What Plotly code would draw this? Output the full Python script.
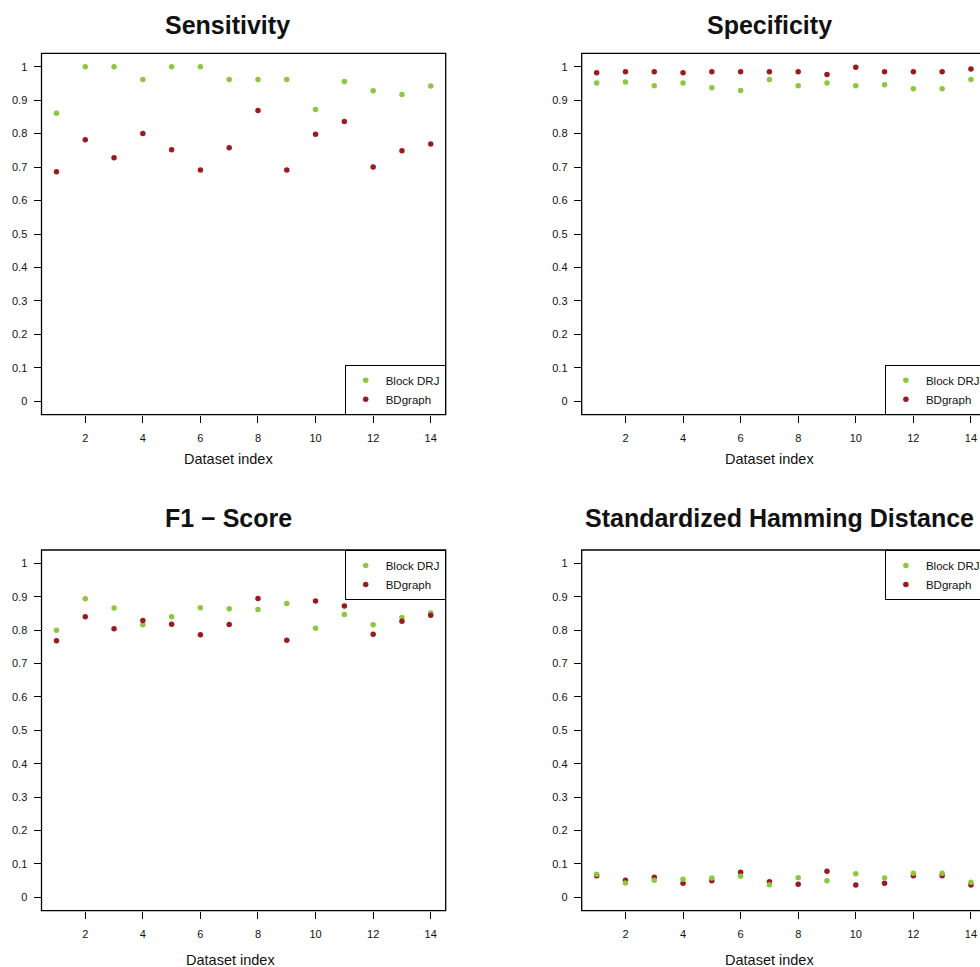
import plotly.graph_objects as go

datasets = list(range(1, 15))
series_names = ["Block DRJ", "BDgraph"]

sens_drj = [0.861, 1.0, 1.0, 0.962, 1.0, 1.0, 0.962, 0.962, 0.962, 0.872, 0.956, 0.928, 0.917, 0.942]
sens_bd = [0.686, 0.782, 0.728, 0.800, 0.752, 0.691, 0.758, 0.869, 0.691, 0.798, 0.836, 0.700, 0.749, 0.769]

spec_drj = [0.951, 0.954, 0.943, 0.951, 0.937, 0.929, 0.962, 0.943, 0.951, 0.943, 0.946, 0.934, 0.934, 0.962]
spec_bd = [0.982, 0.985, 0.985, 0.982, 0.985, 0.985, 0.985, 0.985, 0.977, 0.998, 0.985, 0.985, 0.985, 0.993]

f1_drj = [0.800, 0.894, 0.866, 0.816, 0.840, 0.867, 0.864, 0.862, 0.880, 0.806, 0.847, 0.816, 0.838, 0.851]
f1_bd = [0.768, 0.840, 0.804, 0.829, 0.818, 0.786, 0.817, 0.895, 0.770, 0.887, 0.872, 0.788, 0.827, 0.845]

ham_drj = [0.069, 0.043, 0.051, 0.054, 0.058, 0.063, 0.038, 0.059, 0.050, 0.071, 0.058, 0.072, 0.072, 0.045]
ham_bd = [0.065, 0.051, 0.060, 0.042, 0.050, 0.075, 0.047, 0.039, 0.078, 0.037, 0.042, 0.065, 0.065, 0.037]

titles = ["Sensitivity", "Specificity", "F1 \u2212 Score", "Standardized Hamming Distance"]
x_title = "Dataset index"
y_tickvals = [0, 0.1, 0.2, 0.3, 0.4, 0.5, 0.6, 0.7, 0.8, 0.9, 1.0]
y_ticktext = ["0", "0.1", "0.2", "0.3", "0.4", "0.5", "0.6", "0.7", "0.8", "0.9", "1"]
x_tickvals = [2, 4, 6, 8, 10, 12, 14]

GREEN = "#8DC63F"
RED = "#9B1A22"
FONT = "Liberation Sans, Arial, Helvetica, sans-serif"

W, H = 980, 967
PW = 404.2  # plot width px
cols = [41.5, 581.7]  # left edge px
rows = [(53.3, 414.7), (550.0, 910.7)]  # top, bottom px
ppu = PW / 14.04

fig = go.Figure()

panels = [
    (0, 0, sens_drj, sens_bd, "legend", "bottom", 227.0, False),
    (0, 1, spec_drj, spec_bd, "legend2", "bottom", 769.5, False),
    (1, 0, f1_drj, f1_bd, "legend3", "top", 228.0, False),
    (1, 1, ham_drj, ham_bd, "legend4", "top", 779.0, True),
]

shapes = []
annotations = []
for i, (r, c, drj, bd, leg, lpos, tx, green_on_top) in enumerate(panels):
    idx = i + 1
    xa = "x" if idx == 1 else f"x{idx}"
    ya = "y" if idx == 1 else f"y{idx}"
    left = cols[c]
    right = left + PW
    top, bottom = rows[r]
    x0 = left / W
    x1 = min(right, W) / W
    xmax = 14.52 if right <= W else 0.48 + (W - left) / ppu
    axis_common = dict(showgrid=False, zeroline=False, showline=False,
                       ticks="outside", ticklen=7, tickwidth=1.2, tickcolor="black",
                       tickfont=dict(family=FONT, size=11, color="#111111"))
    fig.layout[f"xaxis{'' if idx == 1 else idx}"] = dict(
        domain=[x0, x1], range=[0.48, xmax], anchor=ya,
        tickvals=x_tickvals, ticktext=[str(v) for v in x_tickvals],
        ticklabelstandoff=6, **axis_common)
    fig.layout[f"yaxis{'' if idx == 1 else idx}"] = dict(
        domain=[1 - bottom / H, 1 - top / H], range=[-0.04, 1.04], anchor=xa,
        tickvals=y_tickvals, ticktext=y_ticktext, ticklabelstandoff=4, **axis_common)

    traces = [(series_names[0], drj, GREEN, 1), (series_names[1], bd, RED, 2)]
    if not green_on_top:
        order = traces
    else:
        order = [traces[1], traces[0]]
    for name, vals, col, rank in order:
        fig.add_trace(go.Scatter(
            x=datasets, y=vals, mode="markers", name=name,
            marker=dict(color=col, size=5.5, line=dict(width=0)),
            xaxis=xa, yaxis=ya, legend=leg, legendrank=rank, showlegend=True))

    shapes.append(dict(type="rect", xref="paper", yref="paper",
                       x0=left / W, x1=right / W, y0=1 - bottom / H, y1=1 - top / H,
                       line=dict(color="black", width=1.3), layer="above"))
    # legend placement
    leg_cfg = dict(xanchor="right", x=right / W,
                   bgcolor="white", bordercolor="black", borderwidth=1,
                   font=dict(family=FONT, size=11.5, color="#111111"),
                   itemwidth=30, tracegroupgap=0, traceorder="normal")
    if lpos == "bottom":
        leg_cfg.update(yanchor="bottom", y=1 - bottom / H)
    else:
        leg_cfg.update(yanchor="top", y=1 - top / H)
    fig.layout[leg] = leg_cfg

    # panel title
    title_y = 24.7 if r == 0 else 518.3
    annotations.append(dict(text=f"<b>{titles[i]}</b>", x=tx / W, y=1 - title_y / H,
                            xref="paper", yref="paper", xanchor="center", yanchor="middle",
                            showarrow=False, font=dict(family=FONT, size=25, color="#111111")))
    # x-axis title
    xt_x = [228.3, 769.5][c] if r == 0 else [230.0, 769.5][c]
    xt_y = 458.7 if r == 0 else 959.6
    annotations.append(dict(text=x_title, x=xt_x / W, y=1 - xt_y / H,
                            xref="paper", yref="paper", xanchor="center", yanchor="middle",
                            showarrow=False, font=dict(family=FONT, size=14.5, color="#111111")))

fig.update_layout(
    width=W, height=H,
    margin=dict(l=0, r=0, t=0, b=0, pad=0, autoexpand=False),
    paper_bgcolor="white", plot_bgcolor="white",
    shapes=shapes, annotations=annotations,
)

fig.write_html("out.html")
